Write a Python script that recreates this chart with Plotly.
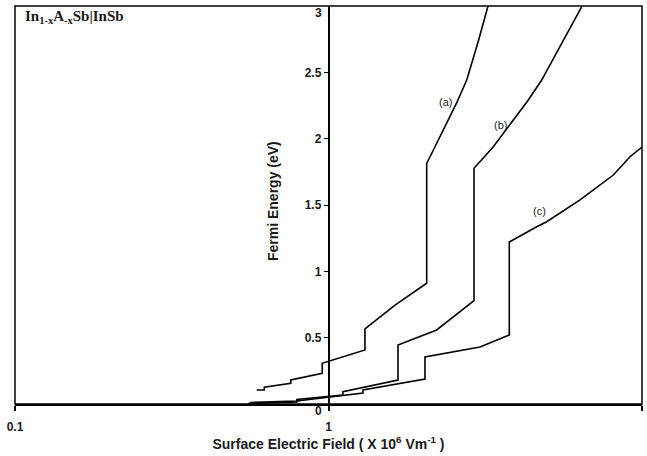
import math
import plotly.graph_objects as go

# ---- data ----
a_x = [0.590, 0.624, 0.624, 0.758, 0.758, 0.955, 0.955, 1.307, 1.307, 1.630, 2.057, 2.057, 2.186, 2.383, 2.565, 2.760, 3.000, 3.227]
a_y = [0.106, 0.106, 0.126, 0.156, 0.181, 0.231, 0.307, 0.407, 0.566, 0.746, 0.910, 1.814, 1.939, 2.116, 2.271, 2.442, 2.729, 3.000]

b_x = [0.562, 0.793, 0.793, 1.112, 1.112, 1.666, 1.666, 2.213, 2.912, 2.912, 3.355, 3.793, 4.339, 4.786, 5.610, 6.424]
b_y = [0.011, 0.023, 0.034, 0.068, 0.093, 0.181, 0.445, 0.558, 0.779, 1.777, 1.939, 2.103, 2.291, 2.442, 2.744, 2.995]

c_x = [0.554, 0.793, 0.793, 1.288, 1.288, 2.031, 2.031, 3.043, 3.773, 3.773, 4.615, 4.966, 6.343, 8.101, 9.156, 10.0]
c_y = [0.004, 0.015, 0.023, 0.083, 0.106, 0.188, 0.354, 0.430, 0.520, 1.221, 1.336, 1.374, 1.538, 1.726, 1.864, 1.937]

curve_labels = ["(a)", "(b)", "(c)"]
label_x = [2.367, 3.525, 4.718]
label_y = [2.273, 2.103, 1.455]

x_ticks = [0.1, 1, 10]
x_tick_text = ["0.1", "1", "10"]
y_ticks = [0.5, 1, 1.5, 2, 2.5]
y_tick_text = ["0.5", "1", "1.5", "2", "2.5"]
# end labels that the reference draws nudged off the frame lines
y_end_vals = [0, 3]
y_end_text = ["0", "3"]

FONT = "Liberation Sans, Arial, sans-serif"
INK = "#1a1a1a"

fig = go.Figure()
for xs, ys in [(a_x, a_y), (b_x, b_y), (c_x, c_y)]:
    fig.add_trace(go.Scatter(x=xs, y=ys, mode="lines",
                             line=dict(color="black", width=1.6),
                             hoverinfo="skip", cliponaxis=True))

annotations = []
for t, lx, ly in zip(curve_labels, label_x, label_y):
    annotations.append(dict(x=math.log10(lx), y=ly, xref="x", yref="y", text=t,
                            showarrow=False, font=dict(family=FONT, size=11, color=INK)))
for v, t in zip(y_end_vals, y_end_text):
    annotations.append(dict(x=0, y=v, xref="x", yref="y", text=t, showarrow=False,
                            xanchor="right", yanchor="middle", xshift=-5,
                            yshift=-7,
                            font=dict(family=FONT, size=12, color=INK, weight="bold")))
# y axis title next to the centred axis
annotations.append(dict(x=0.4115, y=0.51, xref="paper", yref="paper",
                        text="Fermi Energy (eV)", textangle=-90, showarrow=False,
                        xanchor="center", yanchor="middle",
                        font=dict(family=FONT, size=14, color=INK, weight="bold")))
# top-left caption
annotations.append(dict(x=0.012, y=0.972, xref="paper", yref="paper",
                        text="In<sub>1-x</sub>A<sub>-x</sub>Sb|InSb", showarrow=False,
                        xanchor="left", yanchor="middle",
                        font=dict(family="Liberation Serif, Times New Roman, serif", size=15,
                                  color=INK, weight="bold")))

fig.update_layout(
    width=647, height=456,
    margin=dict(l=15, r=5, t=6, b=52, autoexpand=False),
    plot_bgcolor="white", paper_bgcolor="white",
    showlegend=False,
    annotations=annotations,
    shapes=[dict(type="rect", xref="paper", yref="paper", x0=0, y0=0, x1=1, y1=1,
                 line=dict(color="black", width=1.5), layer="above")],
    xaxis=dict(type="log", range=[-1, 1], tickvals=x_ticks, ticktext=x_tick_text,
               ticks="outside", ticklen=5, tickwidth=1.5, tickcolor="black",
               showline=True, linecolor="black", linewidth=1.5,
               showgrid=False, zeroline=False, automargin=False,
               ticklabelstandoff=6,
               tickfont=dict(family=FONT, size=12, color=INK, weight="bold"),
               title=dict(text="Surface Electric Field ( X 10<sup>6</sup> Vm<sup>-1</sup> )",
                          font=dict(family=FONT, size=14, color=INK, weight="bold"),
                          standoff=2)),
    yaxis=dict(range=[0, 3], anchor="free", position=0.5,
               tickvals=y_ticks, ticktext=y_tick_text,
               ticks="outside", ticklen=4, tickwidth=1.2, tickcolor="black",
               showline=True, linecolor="black", linewidth=1.5,
               showgrid=False, zeroline=False, automargin=False,
               tickfont=dict(family=FONT, size=12, color=INK, weight="bold")),
)

fig.write_html("out.html", config={"displayModeBar": False},
               post_script="document.body.style.margin='0';document.body.style.overflow='hidden';")
